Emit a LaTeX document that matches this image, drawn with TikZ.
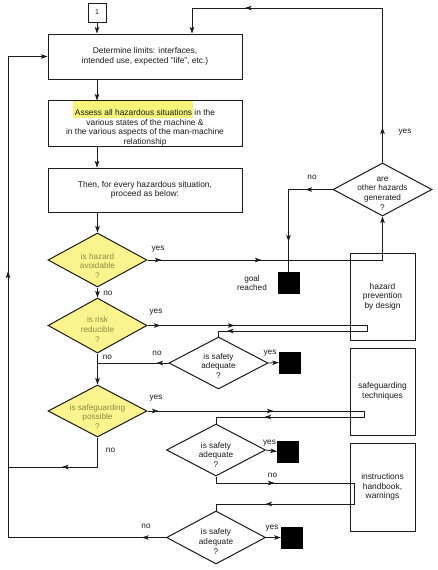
\documentclass[tikz,border=0pt]{standalone}
\usepackage{fontspec}
\setmainfont{Liberation Sans}
\usetikzlibrary{arrows.meta,decorations.markings,shapes.geometric}
\definecolor{yfill}{HTML}{F9F48E}
\definecolor{olivetext}{HTML}{8E8C40}
\definecolor{hl}{HTML}{F7F47A}
\definecolor{ink}{HTML}{1A1A1A}
\newcommand\hilite[1]{\setbox0=\hbox{#1}\leavevmode\rlap{\kern-2pt\textcolor{hl}{\rule[-2.5pt]{\dimexpr\wd0+3pt\relax}{17pt}}}\box0\relax}
\tikzset{
  boxline/.style={draw=ink, line width=1pt},
  box/.style={boxline, rectangle, align=center, inner sep=0pt, text=ink,
    font=\fontsize{8.4}{9.6}\selectfont},
  dia/.style={boxline, diamond, inner sep=0pt, minimum width=99pt, minimum height=53pt},
  ydia/.style={dia, fill=yfill},
  dtext/.style={align=center, inner sep=0pt, text=ink, font=\fontsize{8.2}{9.6}\selectfont},
  ytext/.style={dtext, text=olivetext},
  sq/.style={fill=black, draw=black, minimum size=21pt, inner sep=0pt},
  lab/.style={inner sep=0pt, text=ink, align=center, font=\fontsize{8.2}{9.6}\selectfont},
  line/.style={draw=ink, line width=0.8pt},
  arrat/.style={postaction={decorate,decoration={markings,mark=at position #1 with {\arrow{>}}}}},
}
\begin{document}
\begin{tikzpicture}[x=1pt,y=-1pt,>={Stealth[length=6.5pt,width=4.5pt,inset=1.5pt]}]
\useasboundingbox (0,0) rectangle (437,570);
\fill[white] (0,0) rectangle (437,570);

% column guides
\coordinate (col) at (97,0);
\coordinate (lft) at (8,0);

% boxes on the left
\node[box, minimum width=18pt, minimum height=19pt, font=\fontsize{7}{8}\selectfont] (one) at (97,12.5) {1};
\node[box, minimum width=194pt, minimum height=45pt] (A) at (145,56.5)
  {Determine limits: interfaces,\\intended use, expected "life", etc.)};
\node[box, minimum width=194pt, minimum height=45pt] (B) at (145,123.5)
  {\hilite{Assess all hazardous situations} in the\\various states of the machine \&\\in the various aspects of the man-machine\\relationship};
\draw[boxline] (B.north west) -- (B.north east);
\node[box, minimum width=194pt, minimum height=44pt] (C) at (145,190)
  {Then, for every hazardous situation,\\proceed as below:};

% yellow decision diamonds
\node[ydia, minimum height=54pt, label={[ytext, yshift=-6pt]center:{is hazard\\avoidable\\?}}] (D1) at (97.5,260) {};
\node[ydia, minimum height=55pt, label={[ytext, yshift=-4pt]center:{is risk\\reducible\\?}}] (D2) at (97.5,325.5) {};
\node[ydia, minimum height=52pt, label={[ytext, yshift=-6pt]center:{is safeguarding\\possible\\?}}] (D3) at (97.5,411) {};

% white decision diamonds
\node[dia, label={[dtext, yshift=-4pt]center:{are\\other hazards\\generated\\?}}] (O) at (382.5,189.5) {};
\node[dia, minimum height=52pt, label={[dtext, yshift=-3pt]center:{is safety\\adequate\\?}}] (S1) at (218.5,363) {};
\node[dia, minimum height=52pt, label={[dtext, yshift=-5pt]center:{is safety\\adequate\\?}}] (S2) at (216,450) {};
\node[dia, minimum height=53pt, label={[dtext, yshift=-4pt]center:{is safety\\adequate\\?}}] (S3) at (216,537.5) {};

% right boxes
\node[box, minimum width=65pt, minimum height=87pt] (P1) at (382.5,296.5) {hazard\\prevention\\by design};
\node[box, minimum width=65pt, minimum height=87pt] (P2) at (382.5,391.5) {safeguarding\\techniques};
\node[box, minimum width=65pt, minimum height=88pt] (P3) at (382.5,487) {instructions\\handbook,\\warnings};

% terminal squares
\node[sq] (G) at (288.5,282.5) {};
\node[sq] (Q1) at (289.5,362.5) {};
\node[sq] (Q2) at (287.5,451.5) {};
\node[sq] (Q3) at (291.5,537.5) {};
\node[lab] (gl) at (252,283) {goal\\reached};

% loop coordinates
\coordinate (tr) at (382.5,8);
\coordinate (ta) at (192,8);
\coordinate (j3) at (8,467);
\coordinate (l1a) at (367,325.5);
\coordinate (l1b) at (367,331);
\coordinate (l1c) at (218.5,331);
\coordinate (l2a) at (364,411);
\coordinate (l2b) at (364,417);
\coordinate (l2c) at (216,417);
\coordinate (l3a) at (216,483);
\coordinate (l3b) at (354,483);
\coordinate (l3c) at (354,504);
\coordinate (l3d) at (216,504);

% main column
\draw[line,->] (one.south) -- (one.south |- A.north);
\draw[line,->] (A.south -| col) -- (B.north -| col);
\draw[line,->] (B.south -| col) -- (C.north -| col);
\draw[line,->] (C.south -| D1.north) -- (D1.north);
\draw[line,->] (D1.south) -- (D2.north);
\draw[line,->] (D2.south) -- (D3.north);

% no branches to the left
\draw[line, arrat=12pt] (S1.west) -- (S1.west -| D2.south);
\draw[line, arrat=65pt] (D3.south) |- (j3);
\draw[line, arrat=24pt, arrat=424pt, ->] (S3.west) -- (lft |- S3.west) -- (lft |- A.west) -- (A.west);

% hazard avoidable: yes
\draw[line, arrat=14pt, arrat=114pt, ->] (D1.east) -| (O.south);
% other hazards: yes / no
\draw[line, arrat=35pt, arrat=292pt, ->] (O.north) -- (tr) -- (ta) -- (A.north -| ta);
\draw[line, arrat=27pt, arrat=96pt] (O.west) -| (G.north);

% risk reducible: yes
\draw[line, arrat=13pt, arrat=87pt, arrat=365pt] (D2.east) -- (l1a) -- (l1b) -- (l1c) -- (S1.north);
\draw[line,->] (S1.east) -- (Q1.west);

% safeguarding possible: yes
\draw[line, arrat=11pt, arrat=126pt, arrat=322pt] (D3.east) -- (l2a) -- (l2b) -- (l2c) -- (S2.north);
\draw[line,->] (S2.east) -- (Q2.west);

% second safety check: no
\draw[line, arrat=65pt, arrat=254pt] (S2.south) -- (l3a) -- (l3b) -- (l3c) -- (l3d) -- (S3.north);
\draw[line,->] (S3.east) -- (Q3.west);

% yes / no labels
\node[lab] (y1) at (158,249) {yes};
\node[lab] (n1) at (108,293) {no};
\node[lab] (y2) at (156,312) {yes};
\node[lab] (n2) at (107.5,357) {no};
\node[lab] (y3) at (156,398) {yes};
\node[lab] (n3) at (110.5,450) {no};
\node[lab] (yo) at (405,132) {yes};
\node[lab] (no) at (312,177) {no};
\node[lab] (ys1) at (270,353) {yes};
\node[lab] (ns1) at (157,353) {no};
\node[lab] (ys2) at (269.5,443) {yes};
\node[lab] (ns2) at (272.5,475) {no};
\node[lab] (ys3) at (272,528) {yes};
\node[lab] (ns3) at (146,526) {no};
\end{tikzpicture}
\end{document}
